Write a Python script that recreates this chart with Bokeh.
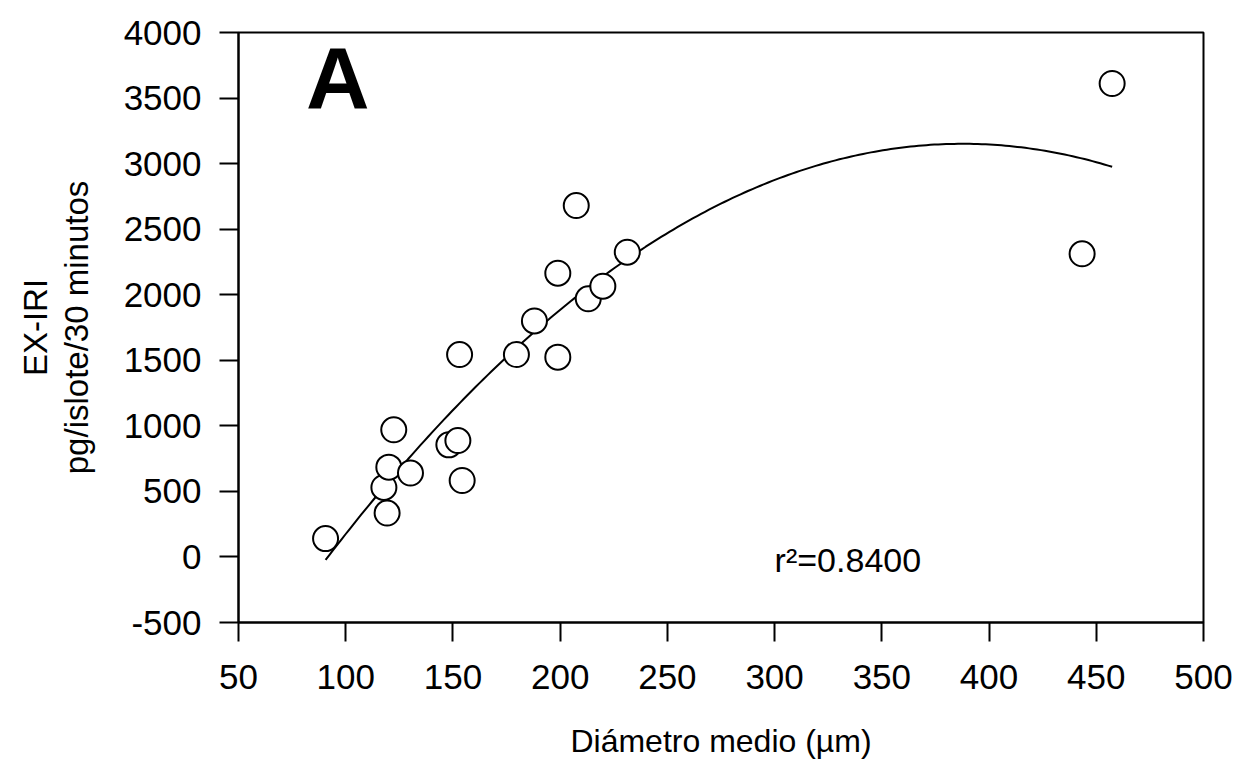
import numpy as np
from bokeh.plotting import figure
from bokeh.models import Range1d, FixedTicker, Label, Title, ColumnDataSource
from bokeh.embed import file_html
from bokeh.resources import INLINE

# Data
diametro = [90.6, 117.8, 119.3, 120.1, 122.4, 130.2, 148.1, 152.3, 154.3, 153.1,
            179.6, 188.0, 198.9, 198.9, 207.5, 213.1, 219.9, 231.3, 443.4, 457.4]
ex_iri = [140, 530, 335, 685, 970, 640, 855, 888, 583, 1544,
          1544, 1800, 1524, 2164, 2680, 1969, 2065, 2324, 2312, 3611]
x_ticks = [50, 100, 150, 200, 250, 300, 350, 400, 450, 500]
y_ticks = [-500, 0, 500, 1000, 1500, 2000, 2500, 3000, 3500, 4000]
y_tick_labels = ["-500", "0", "500", "1000", "1500", "2000", "2500", "3000", "3500", "4000"]
r2_text = "r\u00b2=0.8400"
panel_letter = "A"

# Second-order regression curve fitted to the points
coef = np.polyfit(diametro, ex_iri, 2)
xf = np.linspace(min(diametro), max(diametro), 200)
yf = np.polyval(coef, xf)

FONT = "Liberation Sans"

p = figure(width=1239, height=767, output_backend="svg", toolbar_location=None,
           x_range=Range1d(50, 500), y_range=Range1d(-500, 4000))
p.min_border_left = 238
p.min_border_right = 36
p.min_border_top = 32
p.min_border_bottom = 145
p.background_fill_color = "white"
p.border_fill_color = "white"
p.outline_line_color = "black"
p.outline_line_width = 2
p.xgrid.visible = False
p.ygrid.visible = False

for ax in (p.xaxis[0], p.yaxis[0]):
    ax.axis_line_width = 2
    ax.axis_line_color = "black"
    ax.major_tick_line_width = 2
    ax.major_tick_line_color = "black"
    ax.major_tick_in = 0
    ax.major_tick_out = 19
    ax.minor_tick_line_color = None
    ax.major_label_text_font = FONT
    ax.major_label_text_font_size = "35px"
    ax.major_label_text_color = "black"
    ax.axis_label_text_font = FONT
    ax.axis_label_text_font_size = "32px"
    ax.axis_label_text_font_style = "normal"
    ax.axis_label_text_color = "black"

p.xaxis.ticker = FixedTicker(ticks=x_ticks)
p.yaxis.ticker = FixedTicker(ticks=y_ticks)
p.yaxis.major_label_overrides = {t: s for t, s in zip(y_ticks, y_tick_labels)}
p.xaxis.major_label_standoff = 23
p.yaxis.major_label_standoff = 18
p.xaxis.axis_label = "Di\u00e1metro medio (\u00b5m)"
p.xaxis.axis_label_standoff = 31
p.yaxis.axis_label = "pg/islote/30 minutos"
p.yaxis.axis_label_standoff = 26
p.yaxis.axis_label_text_font_size = "33px"

t = Title(text="EX-IRI", align="center", text_font=FONT, text_font_size="33px",
          text_font_style="normal", text_color="black", standoff=2)
p.add_layout(t, "left")

p.line(xf, yf, line_color="black", line_width=2)

src = ColumnDataSource(data=dict(x=diametro, y=ex_iri))
p.scatter("x", "y", source=src, size=25, marker="circle", fill_color="white",
          line_color="black", line_width=2)

p.add_layout(Label(x=81.5, y=3657, text=panel_letter, text_font=FONT,
                   text_font_size="88px", text_font_style="bold",
                   text_color="black", text_baseline="alphabetic"))
p.add_layout(Label(x=300, y=-25, text=r2_text, text_font=FONT,
                   text_font_size="34px", text_color="black",
                   text_baseline="alphabetic"))

open("out.html", "w").write(file_html(p, INLINE))
